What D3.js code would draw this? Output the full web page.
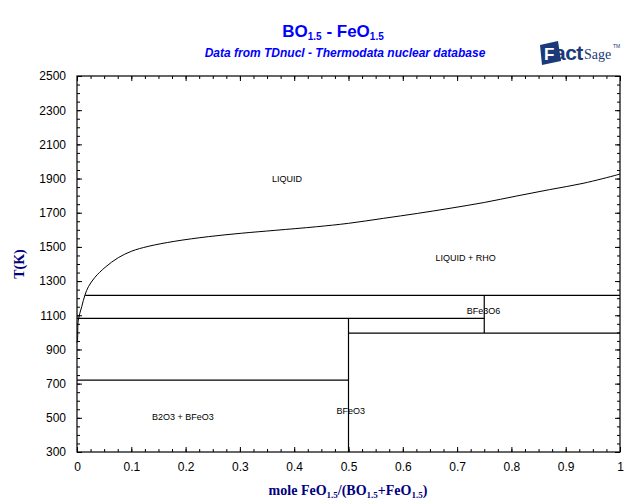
<!DOCTYPE html>
<html><head><meta charset="utf-8">
<script src="https://cdn.jsdelivr.net/npm/d3@7"></script>
<style>body{margin:0;background:#fff}svg{display:block}</style>
</head><body>
<script>
// ---- data ----
const yTicks = [300,500,700,900,1100,1300,1500,1700,1900,2100,2300,2500];
const xTicks = [0,0.1,0.2,0.3,0.4,0.5,0.6,0.7,0.8,0.9,1];
const xTickLabels = ["0","0.1","0.2","0.3","0.4","0.5","0.6","0.7","0.8","0.9","1"];
// liquidus curve (mole fraction, K)
const liquidusX = [0,0.001,0.0024,0.0087,0.0147,0.021,0.033,0.0516,0.076,0.1007,0.131,0.18,0.242,0.303,0.365,0.441,0.50,0.564,0.627,0.687,0.75,0.81,0.87,0.932,0.994,1];
const liquidusT = [940,960,1072,1150,1219,1267,1322,1380,1437,1475,1503,1533,1560,1580,1597,1618,1638,1667,1696,1726,1760,1798,1835,1872,1921,1927];
// invariant / phase boundary segments [x1,T1,x2,T2]
const peritecticRHO = [0.015,1216,1,1216];
const eutecticHigh = [0,1082,0.75,1082];
const lowerLine = [0.5,996,1,996];
const bfe3o6Line = [0.75,1216,0.75,996];
const bfeo3Line = [0.5,1082,0.5,300];
const b2o3Line = [0,721,0.5,721];
const segments = [peritecticRHO,eutecticHigh,lowerLine,bfe3o6Line,bfeo3Line,b2o3Line];
const phaseLabels = ["LIQUID","LIQUID + RHO","BFe3O6","B2O3 + BFeO3","BFeO3"];
const phaseLabelX = [0.359,0.66,0.718,0.138,0.478];
const phaseLabelT = [1882,1420,1110,490,525];

// ---- chart ----
const W=640,H=504;
const svg=d3.select("body").append("svg").attr("width",W).attr("height",H);
const x=d3.scaleLinear().domain([0,1]).range([77,620]);
const y=d3.scaleLinear().domain([300,2500]).range([452,76]);
const navy="#000080", blue="#0000ff";

// frame
svg.append("rect").attr("x",77).attr("y",76).attr("width",543).attr("height",376)
  .attr("fill","none").attr("stroke","#000").attr("stroke-width",1.2);

const minorX=d3.range(0,1.0001,0.025), minorY=d3.range(300,2501,50);
function tickAxis(axisFn, scale, vals, size, tx, ty, labels){
  const a=axisFn(scale).tickValues(vals).tickSize(size).tickPadding(labels?6:0);
  if(labels) a.tickFormat((d,i)=>labels[i]); else a.tickFormat("");
  const g=svg.append("g").attr("transform",`translate(${tx},${ty})`).call(a);
  g.select(".domain").remove();
  g.selectAll("line").attr("stroke","#000");
  g.selectAll("text").attr("font-family","Liberation Sans, Arial, sans-serif").attr("font-size",12).attr("fill","#000");
  return g;
}
// bottom
tickAxis(d3.axisBottom,x,minorX,-3,0,452,null);
const gx=tickAxis(d3.axisBottom,x,xTicks,-5,0,452,xTickLabels);
gx.selectAll("text").attr("dy","0").attr("y",19);
// top
tickAxis(d3.axisTop,x,minorX,-3,0,76,null);
tickAxis(d3.axisTop,x,xTicks,-5,0,76,null);
// left
tickAxis(d3.axisLeft,y,minorY,-3,77,0,null);
const gy=tickAxis(d3.axisLeft,y,yTicks,-5,77,0,yTicks.map(String));
gy.selectAll("text").attr("x",-11);
// right
tickAxis(d3.axisRight,y,minorY,-3,620,0,null);
tickAxis(d3.axisRight,y,yTicks,-5,620,0,null);

// data lines
const line=d3.line().x(d=>x(d[0])).y(d=>y(d[1])).curve(d3.curveCatmullRom.alpha(0.5));
svg.append("path").datum(liquidusX.map((v,i)=>[v,liquidusT[i]]))
  .attr("d",line).attr("fill","none").attr("stroke","#000").attr("stroke-width",1);
svg.selectAll("line.seg").data(segments).enter().append("line").attr("class","seg")
  .attr("x1",d=>x(d[0])).attr("y1",d=>y(d[1])).attr("x2",d=>x(d[2])).attr("y2",d=>y(d[3]))
  .attr("stroke","#000").attr("stroke-width",1.2);

// phase labels
svg.selectAll("text.ph").data(phaseLabels).enter().append("text").attr("class","ph")
  .attr("x",(d,i)=>x(phaseLabelX[i])).attr("y",(d,i)=>y(phaseLabelT[i]))
  .attr("font-family","Liberation Sans, Arial, sans-serif").attr("font-size",9).attr("fill","#000")
  .text(d=>d);

// titles
const t=svg.append("text").attr("x",333).attr("y",37).attr("text-anchor","middle")
  .attr("font-family","Liberation Sans, Arial, sans-serif").attr("font-weight","bold").attr("font-size",17).attr("fill",blue);
t.append("tspan").text("BO");
t.append("tspan").attr("font-size",10).attr("dy",3).text("1.5");
t.append("tspan").attr("dy",-3).text(" - FeO");
t.append("tspan").attr("font-size",10).attr("dy",3).text("1.5");
svg.append("text").attr("x",345).attr("y",57).attr("text-anchor","middle")
  .attr("font-family","Liberation Sans, Arial, sans-serif").attr("font-weight","bold").attr("font-style","italic")
  .attr("font-size",12).attr("fill",blue).text("Data from TDnucl - Thermodata nuclear database");

// axis titles
svg.append("text").attr("transform","translate(24,264) rotate(-90)").attr("text-anchor","middle")
  .attr("font-family","Liberation Serif, Times New Roman, serif").attr("font-weight","bold").attr("font-size",14).attr("fill",navy).text("T(K)");
const xl=svg.append("text").attr("x",348).attr("y",495).attr("text-anchor","middle")
  .attr("font-family","Liberation Serif, Times New Roman, serif").attr("font-weight","bold").attr("font-size",14).attr("fill",navy);
xl.append("tspan").text("mole FeO");
xl.append("tspan").attr("font-size",9).attr("dy",3).text("1.5");
xl.append("tspan").attr("dy",-3).text("/(BO");
xl.append("tspan").attr("font-size",9).attr("dy",3).text("1.5");
xl.append("tspan").attr("dy",-3).text("+FeO");
xl.append("tspan").attr("font-size",9).attr("dy",3).text("1.5");
xl.append("tspan").attr("dy",-3).text(")");

// FactSage logo
const logo=svg.append("g").attr("transform","translate(538,40)");
logo.append("path").attr("d","M2,5 L20,1 L23,21 L4,25 Z").attr("fill","#1a3a7a");
logo.append("text").attr("x",6).attr("y",20).attr("font-family","Liberation Sans, Arial, sans-serif")
  .attr("font-weight","bold").attr("font-size",17).attr("fill","#fff").text("F");
logo.append("text").attr("x",16).attr("y",20).attr("font-family","Liberation Sans, Arial, sans-serif")
  .attr("font-weight","bold").attr("font-size",21).attr("fill","#1a3a7a").attr("letter-spacing",-0.5).text("act");
logo.append("text").attr("x",46).attr("y",19).attr("font-family","Liberation Serif, serif")
  .attr("font-size",14).attr("fill","#1a3a7a").text("Sage");
logo.append("text").attr("x",75).attr("y",8).attr("font-family","Liberation Sans, sans-serif")
  .attr("font-size",5).attr("fill","#1a3a7a").text("TM");
</script>
</body></html>
